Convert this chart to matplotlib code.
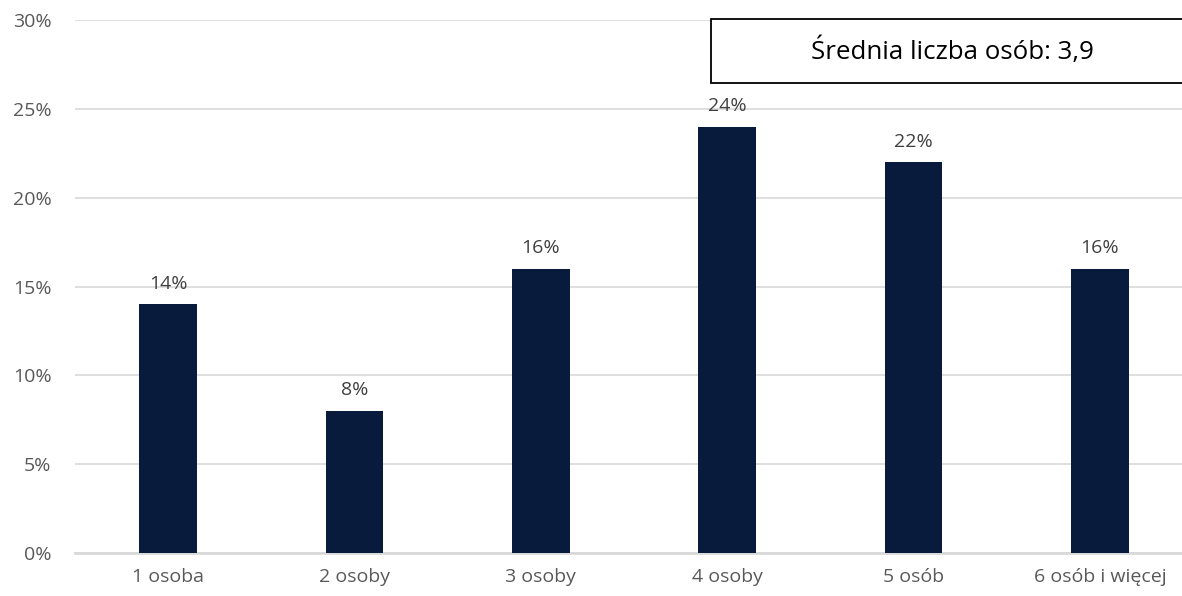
import matplotlib
matplotlib.use("Agg")
import matplotlib.pyplot as plt
from matplotlib.patches import Rectangle
from matplotlib.ticker import FuncFormatter

categories = ["1 osoba", "2 osoby", "3 osoby", "4 osoby", "5 osób", "6 osób i więcej"]
values = [14, 8, 16, 24, 22, 16]
yticks = [0, 5, 10, 15, 20, 25, 30]
box_text = "Średnia liczba osób: 3,9"

W, H = 1182, 596
fig = plt.figure(figsize=(W / 100, H / 100), dpi=100)
plt.rcParams['font.family'] = ['Open Sans', 'DejaVu Sans']

left, right, bottom, top = 75, 1193, 553, 20
ax = fig.add_axes([left / W, (H - bottom) / H, (right - left) / W, (bottom - top) / H])

x = range(len(categories))
ax.bar(x, values, width=0.31, color="#091b3d", zorder=3)
for xi, v in zip(x, values):
    ax.text(xi, v + 0.65, f"{v}%", ha="center", va="bottom", fontsize=14, color="#404040")

ax.set_xlim(-0.5, len(categories) - 0.5)
ax.set_ylim(0, 30)
ax.set_yticks(yticks)
ax.yaxis.set_major_formatter(FuncFormatter(lambda v, p: f"{v:.0f}%"))
ax.set_xticks(list(x))
ax.set_xticklabels(categories)
ax.tick_params(axis="both", length=0, labelsize=14, labelcolor="#595959")
ax.tick_params(axis="x", pad=11)
ax.tick_params(axis="y", pad=17)
ax.grid(axis="y", color="#d9d9d9", linewidth=1.2, zorder=0)
ax.axhline(0, color="#d9d9d9", linewidth=2, zorder=1, clip_on=False)
for s in ax.spines.values():
    s.set_visible(False)

# annotation box
bx0, by0, bx1, by1 = 711, 19, 1195, 83
rect = Rectangle((bx0 / W, (H - by1) / H), (bx1 - bx0) / W, (by1 - by0) / H,
                 transform=fig.transFigure, facecolor="white", edgecolor="black",
                 linewidth=1.3, zorder=10, clip_on=False)
fig.patches.append(rect)
fig.text(952 / W, (H - 51) / H, box_text, ha="center", va="center", fontsize=18.6,
         color="black", zorder=11)

fig.savefig("out.png", dpi=100)
